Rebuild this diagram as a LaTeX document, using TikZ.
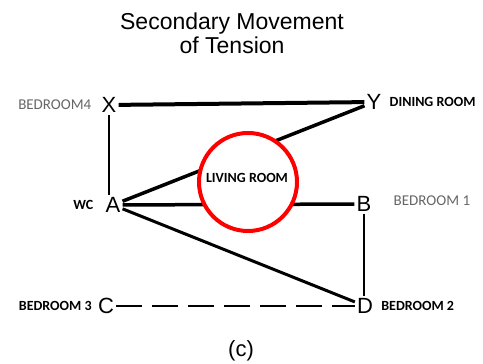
\documentclass[tikz,border=0pt]{standalone}
\usepackage{fontspec}
\setmainfont{Liberation Sans}
\newfontfamily\roomfont{Carlito}
\usetikzlibrary{positioning}
\begin{document}
\begin{tikzpicture}[x=1pt, y=1pt, font=\fontsize{22}{24}\selectfont,
    pt/.style={inner sep=2pt},
    room/.style={inner sep=0pt, font=\roomfont\bfseries\fontsize{14}{16}\selectfont},
    faint/.style={inner sep=0pt, text=black!60, font=\roomfont\fontsize{15}{16}\selectfont},
    link/.style={line width=3.5pt},
    thin link/.style={line width=2pt}]
	
	\useasboundingbox (0,0) rectangle (483,364);
	
	% title
	\node[align=center, font=\fontsize{23}{24}\selectfont] (title) at (232,331) {Secondary Movement\\of Tension};
	
	% rooms
	\node[pt] (X) at (109,259) {X};
	\node[pt] (Y) at (374,262) {Y};
	\node[pt] (A) at (113,159) {A};
	\node[pt] (B) at (364,160) {B};
	\node[pt] (C) at (106,58) {C};
	\node[pt] (D) at (365,58) {D};
	
	\node[faint, left=8pt of X] (bed4) {BEDROOM4};
	\node[room, right=6pt of Y] (dining) {DINING ROOM};
	\node[room, left=10pt of A] (wc) {WC};
	\node[faint, right=20pt of B, yshift=3pt] (bed1) {BEDROOM 1};
	\node[room, left=4pt of C] (bed3) {BEDROOM 3};
	\node[room, right=6pt of D] (bed2) {BEDROOM 2};
	
	% movements
	\draw[line width=4pt] (X) -- (Y);
	\draw[link] (A) -- (Y);
	\draw[link] (A) -- (B);
	\draw[line width=3pt] (A) -- (D);
	\draw[thin link] (X) -- (X |- A.north);
	\draw[thin link] (B) -- (B |- D.north);
	\draw[line width=2.5pt, dash pattern=on 26pt off 10pt] (C) -- (D);
	
	% living room on top
	\node[circle, draw=red, fill=white, line width=4pt, minimum size=98pt] (living) at (248,182) {};
	\node[room] (livlabel) at (247,186) {LIVING ROOM};
	
	\node (caption) at (241,13) {(c)};
\end{tikzpicture}
\end{document}
